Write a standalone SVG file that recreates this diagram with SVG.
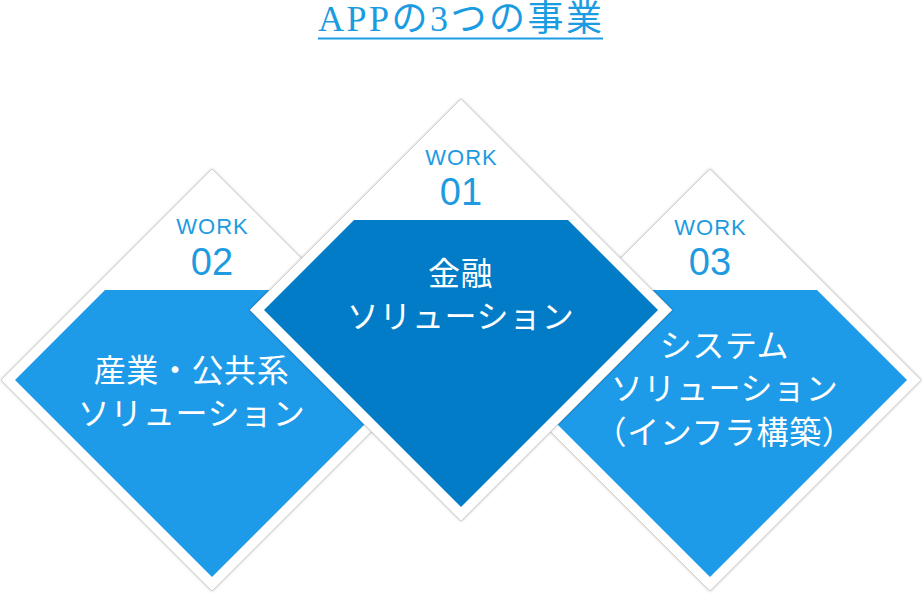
<svg xmlns="http://www.w3.org/2000/svg" width="924" height="598" viewBox="0 0 924 598">
  <defs>
    <filter id="sh" x="-10%" y="-10%" width="120%" height="120%">
      <feDropShadow dx="0" dy="0" stdDeviation="1.5" flood-color="#000" flood-opacity="0.25"/>
    </filter>
    <style>
      .outer { fill: #ffffff; stroke: #d4d4d4; stroke-width: 1; filter: url(#sh); }
      .side { fill: #1e9be8; }
      .main { fill: #037cc8; }
      .work { font-family: "Liberation Sans", Arial, sans-serif; font-size: 22px; fill: #1e9be0; text-anchor: middle; letter-spacing: 1px; }
      .num { font-family: "Liberation Sans", Arial, sans-serif; font-size: 38px; fill: #1e9be0; text-anchor: middle; }
      .lbl { font-family: "Noto Sans CJK JP", "Noto Sans", sans-serif; font-size: 32px; fill: #ffffff; text-anchor: middle; letter-spacing: 0.6px; }
      .title { font-family: "Liberation Serif", "Noto Sans CJK JP", serif; font-size: 36px; fill: #1a9be2; letter-spacing: 2.5px; }
    </style>
  </defs>
  <rect width="924" height="598" fill="#ffffff"/>

  <g id="title">
    <text class="title" x="318" y="31">APPの3つの事業</text>
    <line x1="318" y1="38.5" x2="603" y2="38.5" stroke="#1a9be2" stroke-width="2"/>
  </g>

  <g id="connectors"></g>

  <g id="work02">
    <polygon class="outer" points="212,169 423,380 212,591 1,380"/>
    <polygon class="side" points="105,290 319,290 409,380 212,577 15,380"/>
    <text class="work" x="212.5" y="233.5">WORK</text>
    <text class="num" x="212" y="275">02</text>
    <text class="lbl" x="191.5" y="382">産業・公共系</text>
    <text class="lbl" x="191.5" y="425">ソリューション</text>
  </g>

  <g id="work03">
    <polygon class="outer" points="710,169 921,380 710,591 499,380"/>
    <polygon class="side" points="603,290 817,290 907,380 710,577 513,380"/>
    <text class="work" x="710.5" y="235">WORK</text>
    <text class="num" x="710" y="275">03</text>
    <text class="lbl" x="724.5" y="357">システム</text>
    <text class="lbl" x="724.5" y="400">ソリューション</text>
    <text class="lbl" x="724.5" y="444">（インフラ構築）</text>
  </g>

  <g id="work01">
    <polygon class="outer" points="461,99 672,310 461,521 250,310"/>
    <polygon class="main" points="354,220 568,220 658,310 461,507 264,310"/>
    <text class="work" x="461.5" y="165">WORK</text>
    <text class="num" x="461" y="205">01</text>
    <text class="lbl" x="460.5" y="285">金融</text>
    <text class="lbl" x="460.5" y="328">ソリューション</text>
  </g>
</svg>
